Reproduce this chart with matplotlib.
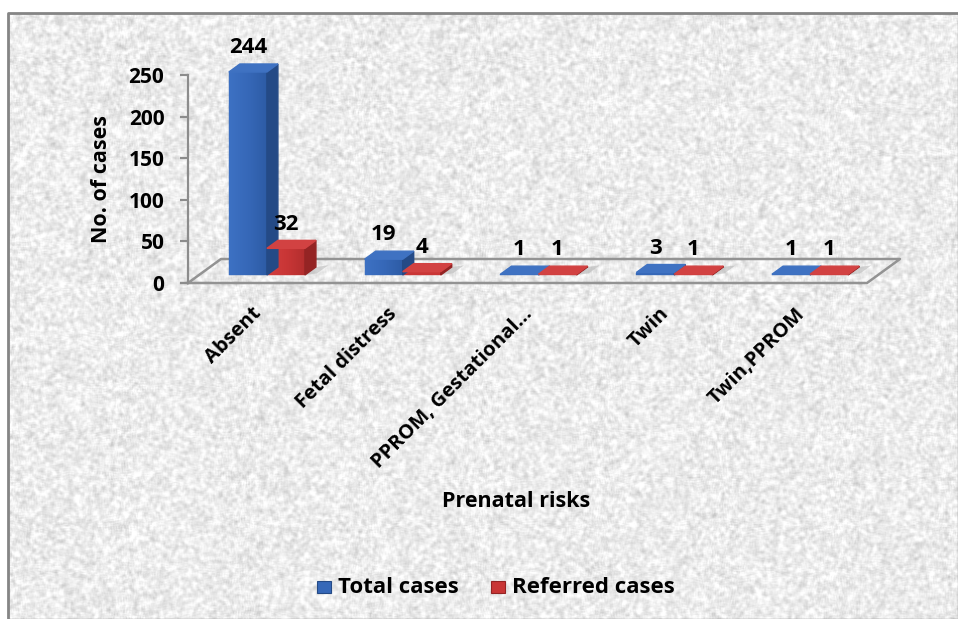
import numpy as np
import matplotlib
matplotlib.use('Agg')
import matplotlib.pyplot as plt
from matplotlib.colors import LinearSegmentedColormap
from matplotlib.patches import Polygon, Rectangle

plt.rcParams['font.family'] = ['Open Sans', 'DejaVu Sans']
plt.rcParams['font.weight'] = 'bold'

# data
categories = ['Absent', 'Fetal distress', 'PPROM, Gestational...', 'Twin', 'Twin,PPROM']
total_cases = [244, 19, 1, 3, 1]
referred_cases = [32, 4, 1, 1, 1]
series_names = ['Total cases', 'Referred cases']
y_ticks = [0, 50, 100, 150, 200, 250]

W_PX, H_PX = 958, 619
fig = plt.figure(figsize=(W_PX / 100, H_PX / 100), dpi=100)


def fx(x):
    return x / W_PX


def fy(y):
    return 1 - y / H_PX


# textured backdrop + frame, drawn in pixel coordinates
bg = fig.add_axes([0, 0, 1, 1], zorder=0)
bg.set_xlim(0, W_PX)
bg.set_ylim(H_PX, 0)
bg.axis('off')
rng = np.random.default_rng(3)
noise = rng.random((H_PX, W_PX))
k = np.ones(4) / 4
soft = np.apply_along_axis(lambda r: np.convolve(r, k, mode='same'), 1, noise)
soft = np.apply_along_axis(lambda c: np.convolve(c, k, mode='same'), 0, soft)
soft = (soft - soft.mean()) / soft.std()
tex = np.clip(0.925 + 0.04 * soft, 0.76, 1.0)
bg.imshow(tex, cmap='gray', vmin=0, vmax=1, extent=(8, W_PX, H_PX, 13),
          interpolation='bilinear', aspect='auto')
bg.add_patch(Rectangle((0, 0), W_PX, 13, color='white', zorder=1))
bg.add_patch(Rectangle((0, 0), 8, H_PX, color='white', zorder=1))
bg.plot([8, 8, W_PX], [H_PX, 13, 13], color='#858585', lw=2, zorder=2)

# plotting area: front floor edge from px 188 to 867, value 0 at px 283, 250 at px 75
ax = fig.add_axes([fx(188), fy(283), (867 - 188) / W_PX, (283 - 75) / H_PX], zorder=1)
ax.set_facecolor('none')
for s in ['top', 'right', 'bottom']:
    ax.spines[s].set_visible(False)
ax.spines['left'].set_color('#8c8c8c')
ax.spines['left'].set_linewidth(1.6)
ax.set_yticks(y_ticks)
ax.tick_params(axis='y', length=6, width=1.6, color='#8c8c8c', pad=11, labelsize=15)
for t in ax.get_yticklabels():
    t.set_fontweight('bold')
ax.set_xticks([])

# depth of the floor in data units (33 px right, 24 px up)
DX = 33 / 135.8
DY = 24 / 0.832
xl, xr = -0.5, len(categories) - 0.5
floor_x = [xl, xr, xr + DX, xl + DX, xl]
floor_y = [0, 0, DY, DY, 0]
ax.plot(floor_x, floor_y, color='#939393', lw=1.8, clip_on=False, zorder=2)
ax.plot([xl - 0.05, xl], [0, 0], color='#8c8c8c', lw=1.6, clip_on=False)

BW = 0.28
D0, D1 = 1 / 3, 2 / 3
# front, side, top, sheen (light -> dark across the front face)
face_cols = [('#3668b8', '#244a86', '#3f72c2', ['#3d71c3', '#3668b8', '#2d5ba4']),
             ('#c93636', '#942424', '#d24242', ['#d23e3e', '#c93636', '#b22e2e'])]

for i in range(len(categories)):
    for s, vals in enumerate([total_cases, referred_cases]):
        v = vals[i]
        front, side, top, sheen = face_cols[s]
        x0 = i - BW + s * BW + D0 * DX
        x1 = x0 + BW
        y0 = D0 * DY
        ddx, ddy = (D1 - D0) * DX, (D1 - D0) * DY
        # soft shadow cast on the floor
        ax.add_patch(Polygon([(x1, y0), (x1 + 0.09, y0 + 2), (x1 + 0.09 + ddx, y0 + ddy + 2), (x1 + ddx, y0 + ddy)],
                             closed=True, color='#b9b9b9', alpha=0.6, lw=0, clip_on=False, zorder=3))
        bars = ax.bar(x0, v, width=BW, bottom=y0, align='edge', color=front,
                      edgecolor=front, lw=0.3, clip_on=False, zorder=4)
        if v > 5:
            grad = np.linspace(0, 1, 50).reshape(1, -1)
            im = ax.imshow(grad, cmap=LinearSegmentedColormap.from_list('sheen', sheen),
                           extent=(x0, x1, y0, y0 + v), aspect='auto', zorder=4.1,
                           interpolation='bilinear', clip_on=False)
            im.set_clip_path(bars[0])
        ax.add_patch(Polygon([(x1, y0), (x1 + ddx, y0 + ddy), (x1 + ddx, y0 + ddy + v), (x1, y0 + v)],
                             closed=True, color=side, clip_on=False, zorder=4.2))
        ax.add_patch(Polygon([(x0, y0 + v), (x1, y0 + v), (x1 + ddx, y0 + ddy + v), (x0 + ddx, y0 + ddy + v)],
                             closed=True, color=top, clip_on=False, zorder=4.2))
        ax.text(x0 + BW / 2, v + D1 * DY + 13, str(v), ha='center', va='baseline',
                fontsize=16, fontweight='bold', clip_on=False, zorder=5)

ax.set_xlim(-0.5, len(categories) - 0.5)
ax.set_ylim(0, 250)

for i, lab in enumerate(categories):
    ax.text(i + 0.07, -25, lab, rotation=45, ha='right', va='top',
            fontsize=14.5, fontweight='bold', clip_on=False)

fig.text(fx(107), fy(179), 'No. of cases', rotation=90, rotation_mode='anchor',
         ha='center', va='baseline', fontsize=15.5, fontweight='bold')
fig.text(fx(516), fy(507), 'Prenatal risks', ha='center', va='baseline',
         fontsize=15.5, fontweight='bold')

# legend
for (mx, tx), name, cols in zip([(317, 338), (491, 512)], series_names, face_cols):
    bg.add_patch(Rectangle((mx, 581), 14, 12, facecolor=cols[0], edgecolor=cols[1], lw=0.8, zorder=3))
    bg.text(tx, 593, name, ha='left', va='baseline', fontsize=16, fontweight='bold', zorder=3)

fig.savefig('out.png', dpi=100)
